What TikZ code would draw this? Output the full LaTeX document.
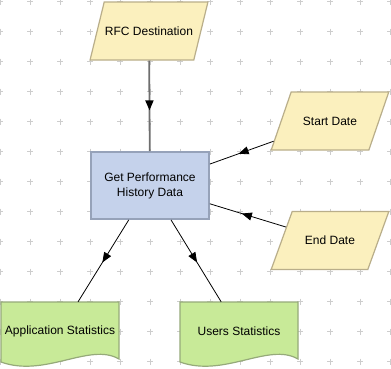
\documentclass[tikz,border=0pt]{standalone}
\usepackage{fontspec}
\setmainfont{Liberation Sans}
\usetikzlibrary{shapes.geometric,arrows.meta,decorations.markings}
\definecolor{ioFill}{RGB}{251,240,190}
\definecolor{ioDraw}{RGB}{185,174,138}
\definecolor{procFill}{RGB}{197,210,235}
\definecolor{procDraw}{RGB}{150,162,185}
\definecolor{docFill}{RGB}{200,234,152}
\definecolor{docDraw}{RGB}{150,170,122}
\definecolor{gridCol}{RGB}{205,205,205}
\definecolor{flowGray}{RGB}{110,110,110}
\tikzset{
  lbl/.style={font=\fontsize{12}{15}\selectfont, text=black, align=center},
  iobox/.style={lbl, trapezium, trapezium left angle=75.5, trapezium right angle=104.5,
    trapezium stretches, minimum width=118pt, minimum height=58pt,
    inner xsep=0pt, inner ysep=22.5pt,
    fill=ioFill, draw=ioDraw, line width=1.2pt},
  procbox/.style={lbl, rectangle, minimum width=118pt, minimum height=67pt, inner sep=0pt,
    fill=procFill, draw=procDraw, line width=1.8pt},
  docbox/.style={lbl, rectangle, minimum width=118pt, minimum height=58pt, inner sep=0pt},
  docshape/.style={fill=docFill, draw=docDraw, line width=1.2pt},
  midarrow/.style={postaction={decorate}, decoration={markings,
    mark=at position #1 with {\arrow{Triangle[length=10pt,width=8pt,color=black]}}}},
  flow/.style={draw=black, line width=0.8pt},
  flowthick/.style={draw=flowGray, line width=1.8pt},
}
\begin{document}
\begin{tikzpicture}[x=1pt,y=-1pt]
\useasboundingbox (0,0) rectangle (391,368);
\fill[white] (0,0) rectangle (391,368);
% grid crosses
\foreach \i in {0,...,13}{
  \foreach \j in {0,...,12}{
    \draw[gridCol, line width=0.8pt] ({0.3+30*\i-3},{1.7+30*\j}) -- ({0.3+30*\i+3},{1.7+30*\j})
      ({0.3+30*\i},{1.7+30*\j-3}) -- ({0.3+30*\i},{1.7+30*\j+3});
  }
}
% document shapes
\draw[docshape] (1,302) -- (119,302) -- (119,359) .. controls (90,342) and (45,378) .. (1,362) -- cycle;
\draw[docshape] (180,302) -- (298,302) -- (298,359) .. controls (269,342) and (224,378) .. (180,362) -- cycle;
\node[docbox] (app) at (60,331) {Application Statistics};
\node[docbox] (usr) at (239,331) {Users Statistics};
% other nodes
\node[iobox] (rfc) at (149,31) {RFC Destination};
\node[iobox] (sd) at (330,121) {Start Date};
\node[iobox] (ed) at (330,240.5) {End Date};
\node[procbox] (gp) at (150,185.5) {Get Performance\\History Data};
% connectors
\draw[flowthick, midarrow=0.55] (rfc) -- (gp);
\draw[flow, midarrow=0.55] (sd) -- (gp);
\draw[flow, midarrow=0.58] (ed) -- (gp);
\draw[flow, midarrow=0.52] (gp) -- (app);
\draw[flow, midarrow=0.52] (gp) -- (usr);
\end{tikzpicture}
\end{document}
